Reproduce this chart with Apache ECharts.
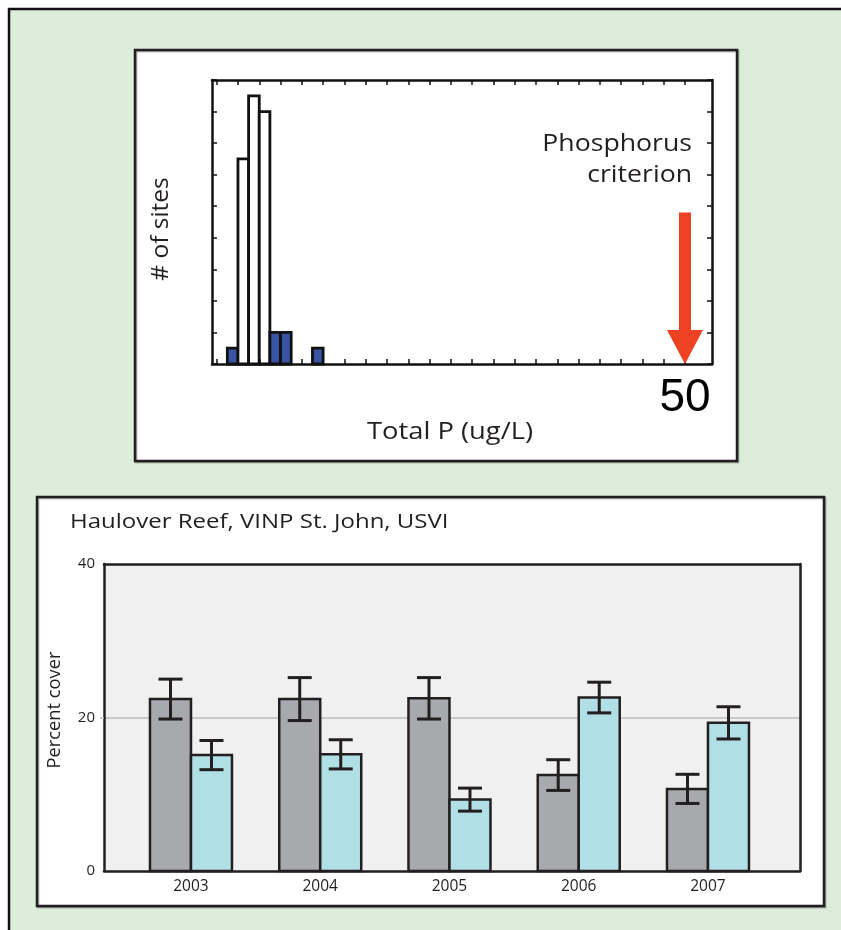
<!DOCTYPE html>
<html>
<head>
<meta charset="utf-8">
<script src="https://cdn.jsdelivr.net/npm/echarts@6/dist/echarts.min.js"></script>
<style>
html,body{margin:0;padding:0;background:#fff;}
#c{width:841px;height:930px;}
</style>
</head>
<body>
<div id="c"></div>
<script>
// ---------- Histogram data (Total P, ug/L) ----------
const binStarts   = [7, 8, 9, 10, 11, 12, 15];
const siteCounts  = [1, 13, 17, 16, 2, 2, 1];
const binBlue     = [1, 0, 0, 0, 1, 1, 1];
const binWidth    = 1;
const histXTicks  = [6, 8, 10, 12, 14, 16, 18, 20, 22, 24, 26, 28, 30, 32, 34, 36, 38, 40, 42, 44, 46, 48, 50];
const histXLabels = [50];
const criterionValue = 50;
const arrowTopCount  = 9.6;

// ---------- Percent cover data ----------
const years      = [2003, 2004, 2005, 2006, 2007];
const grayMeans  = [22.4, 22.4, 22.5, 12.5, 10.7];
const grayErr    = [2.6, 2.8, 2.7, 2.0, 1.9];
const cyanMeans  = [15.1, 15.2, 9.3, 22.6, 19.3];
const cyanErr    = [1.9, 1.9, 1.5, 2.0, 2.1];
const coverTicks = [0, 20, 40];

const INK = '#231f20';
const chart = echarts.init(document.getElementById('c'), null, {renderer: 'canvas'});

function histRender(params, api) {
  const s = api.value(0), n = api.value(1), blue = api.value(2);
  const p0 = api.coord([s, n]);
  const p1 = api.coord([s + binWidth, 0]);
  return {
    type: 'rect',
    shape: {x: p0[0], y: p0[1], width: p1[0] - p0[0], height: p1[1] - p0[1]},
    style: {fill: blue ? '#3a54a4' : '#ffffff', stroke: '#111', lineWidth: 2.8}
  };
}

function arrowRender(params, api) {
  const tip = api.coord([api.value(0), 0]);
  const top = api.coord([api.value(0), api.value(1)]);
  const headH = 34, headW = 36, shaftW = 12;
  return {
    type: 'group',
    children: [
      {type: 'rect', shape: {x: tip[0] - shaftW / 2, y: top[1], width: shaftW, height: tip[1] - headH - top[1] + 1},
       style: {fill: '#ef4123'}},
      {type: 'polygon', shape: {points: [[tip[0] - headW / 2, tip[1] - headH], [tip[0] + headW / 2, tip[1] - headH], [tip[0], tip[1]]]},
       style: {fill: '#ef4123'}}
    ]
  };
}

function coverRender(color, side) {
  return function (params, api) {
    const x = api.value(0), m = api.value(1), e = api.value(2);
    const base = api.coord([x, 0]);
    const top = api.coord([x, m]);
    const hi = api.coord([x, m + e]);
    const lo = api.coord([x, m - e]);
    const bw = 41, cap = 24;
    const x0 = side < 0 ? base[0] - bw : base[0];
    const cx = x0 + bw / 2;
    const ls = {stroke: INK, lineWidth: 3};
    return {
      type: 'group',
      children: [
        {type: 'rect', shape: {x: x0, y: top[1], width: bw, height: base[1] - top[1]},
         style: {fill: color, stroke: INK, lineWidth: 2.5}},
        {type: 'line', shape: {x1: cx, y1: hi[1], x2: cx, y2: lo[1]}, style: ls},
        {type: 'line', shape: {x1: cx - cap / 2, y1: hi[1], x2: cx + cap / 2, y2: hi[1]}, style: ls},
        {type: 'line', shape: {x1: cx - cap / 2, y1: lo[1], x2: cx + cap / 2, y2: lo[1]}, style: ls}
      ]
    };
  };
}

const frameLine = {show: true, onZero: false, lineStyle: {color: '#111', width: 2.5}};
const histTick = {show: true, inside: true, length: 5, lineStyle: {color: '#111', width: 1.5}};
const coverFrame = {show: true, onZero: false, lineStyle: {color: INK, width: 2.5}};
const HMIN = 5.56, HMAX = 52.54;
const YMIN = 2002.327, YMAX = 2007.712;

const option = {
  animation: false,
  backgroundColor: '#ffffff',
  textStyle: {fontFamily: 'Open Sans'},
  graphic: [
    {type: 'rect', z: -10, shape: {x: 9, y: 9, width: 850, height: 940},
     style: {fill: '#dcedda', stroke: '#111', lineWidth: 2.5}},
    {type: 'rect', z: -9, shape: {x: 135, y: 50, width: 602, height: 411},
     style: {fill: '#ffffff', stroke: INK, lineWidth: 2.5, shadowColor: 'rgba(0,0,0,0.35)', shadowOffsetX: 1, shadowOffsetY: 1, shadowBlur: 1}},
    {type: 'rect', z: -9, shape: {x: 37, y: 497, width: 787, height: 409},
     style: {fill: '#ffffff', stroke: INK, lineWidth: 2.5, shadowColor: 'rgba(0,0,0,0.35)', shadowOffsetX: 1, shadowOffsetY: 1, shadowBlur: 1}},
    {type: 'text', z: 10, x: 692, y: 129, scaleX: 1.11,
     style: {text: 'Phosphorus\ncriterion', textAlign: 'right', textVerticalAlign: 'top', fontSize: 24, lineHeight: 31,
             fontFamily: 'Open Sans', fill: INK}},
    {type: 'text', z: 10, x: 450, y: 432, scaleX: 1.14,
     style: {text: 'Total P (ug/L)', textAlign: 'center', textVerticalAlign: 'middle', fontSize: 24,
             fontFamily: 'Open Sans', fill: INK}},
    {type: 'text', z: 10, x: 161, y: 229, rotation: Math.PI / 2,
     style: {text: '# of sites', textAlign: 'center', textVerticalAlign: 'middle', fontSize: 24.5,
             fontFamily: 'Open Sans', fill: INK}},
    {type: 'text', z: 10, x: 70, y: 522, scaleX: 1.2,
     style: {text: 'Haulover Reef, VINP St. John, USVI', textAlign: 'left', textVerticalAlign: 'middle', fontSize: 20,
             fontFamily: 'Open Sans', fill: INK}},
    {type: 'text', z: 10, x: 55, y: 710, rotation: Math.PI / 2,
     style: {text: 'Percent cover', textAlign: 'center', textVerticalAlign: 'middle', fontSize: 18.3,
             fontFamily: 'Open Sans', fill: INK}}
  ],
  grid: [
    {left: 212, top: 80, width: 500, height: 284},
    {left: 104, top: 564, width: 696, height: 307, show: true, backgroundColor: '#f0f0f0', borderWidth: 0}
  ],
  xAxis: [
    {gridIndex: 0, type: 'value', min: HMIN, max: HMAX, position: 'bottom', z: 3,
     axisLine: frameLine, axisTick: Object.assign({customValues: histXTicks}, histTick),
     axisLabel: {show: true, customValues: histXLabels, fontSize: 46, fontFamily: 'Liberation Sans', color: '#000', margin: 11,
                 formatter: v => String(v)},
     splitLine: {show: false}},
    {gridIndex: 0, type: 'value', min: HMIN, max: HMAX, position: 'top', z: 3,
     axisLine: frameLine, axisTick: Object.assign({customValues: histXTicks}, histTick),
     axisLabel: {show: false}, splitLine: {show: false}},
    {gridIndex: 1, type: 'value', min: YMIN, max: YMAX, position: 'bottom', z: 3,
     axisLine: coverFrame, axisTick: {show: false},
     axisLabel: {show: true, customValues: years, fontSize: 15.5, fontFamily: 'Open Sans', color: INK, margin: 8,
                 formatter: v => String(v)},
     splitLine: {show: false}},
    {gridIndex: 1, type: 'value', min: YMIN, max: YMAX, position: 'top', z: 3,
     axisLine: coverFrame, axisTick: {show: false}, axisLabel: {show: false}, splitLine: {show: false}}
  ],
  yAxis: [
    {gridIndex: 0, type: 'value', min: 0, max: 18, interval: 2, position: 'left', z: 3,
     axisLine: frameLine, axisTick: histTick, axisLabel: {show: false}, splitLine: {show: false}},
    {gridIndex: 0, type: 'value', min: 0, max: 18, interval: 2, position: 'right', z: 3,
     axisLine: frameLine, axisTick: histTick, axisLabel: {show: false}, splitLine: {show: false}},
    {gridIndex: 1, type: 'value', min: 0, max: 40, interval: 20, position: 'left', z: 2,
     axisLine: coverFrame,
     axisTick: {show: true, length: 4, customValues: [20], lineStyle: {color: '#bdbdbd', width: 1.5}},
     axisLabel: {show: true, customValues: coverTicks, fontSize: 15, fontFamily: 'Open Sans', color: INK, margin: 9},
     splitLine: {show: true, lineStyle: {color: '#bdbdbd', width: 1.5}}},
    {gridIndex: 1, type: 'value', min: 0, max: 40, interval: 20, position: 'right', z: 3,
     axisLine: coverFrame, axisTick: {show: false}, axisLabel: {show: false}, splitLine: {show: false}}
  ],
  series: [
    {type: 'custom', name: 'sites', xAxisIndex: 0, yAxisIndex: 0, z: 2,
     data: binStarts.map((s, i) => [s, siteCounts[i], binBlue[i]]),
     renderItem: histRender},
    {type: 'custom', name: 'criterion', xAxisIndex: 0, yAxisIndex: 0, z: 4,
     data: [[criterionValue, arrowTopCount]],
     renderItem: arrowRender},
    {type: 'custom', name: 'gray', xAxisIndex: 2, yAxisIndex: 2, z: 2,
     data: years.map((y, i) => [y, grayMeans[i], grayErr[i]]),
     renderItem: coverRender('#a7a9ac', -1)},
    {type: 'custom', name: 'cyan', xAxisIndex: 2, yAxisIndex: 2, z: 2,
     data: years.map((y, i) => [y, cyanMeans[i], cyanErr[i]]),
     renderItem: coverRender('#b0dfe5', 1)}
  ]
};
chart.setOption(option);
</script>
</body>
</html>
